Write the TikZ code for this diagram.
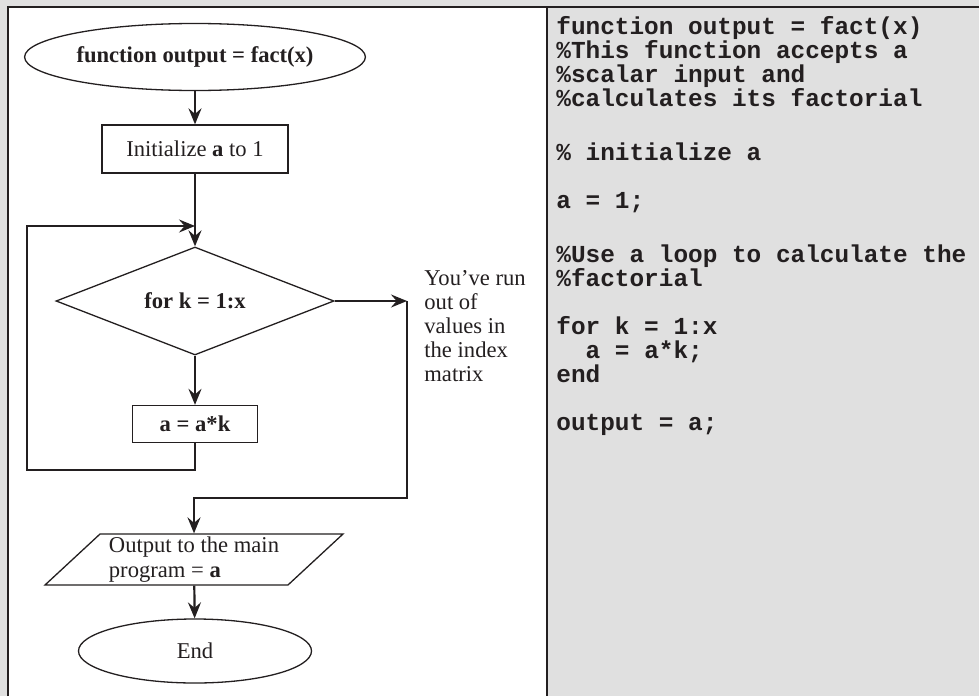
\documentclass[tikz,border=0pt]{standalone}
\usepackage{fontspec}
\setmainfont{Liberation Serif}
\setmonofont{Liberation Mono}
\usepackage{xcolor}
\usepackage{tikz}
\usetikzlibrary{arrows.meta,positioning,shapes.geometric,calc}
\definecolor{panelgray}{HTML}{E0E0E0}
\definecolor{ink}{HTML}{231F20}

\begin{document}
\begin{tikzpicture}[
  x=0.5pt,
  y=-0.5pt,
  shapeline/.style={draw=ink, line width=0.65pt, fill=white, inner sep=1pt,
    text=ink, font=\fontsize{11.3}{12.5}\selectfont},
  term/.style={shapeline, ellipse},
  proc/.style={shapeline, rectangle},
  test/.style={shapeline, diamond, aspect=2.57},
  io/.style={shapeline, trapezium, trapezium left angle=42,
    trapezium right angle=138, trapezium stretches body, align=left},
  flow/.style={ink, line width=1.1pt, -{Stealth[length=8pt,width=6.5pt,inset=2.8pt]}},
  link/.style={ink, line width=1.1pt},
  note/.style={text=ink, inner sep=0pt, align=left,
    font=\fontsize{11.3}{12}\selectfont},
  code/.style={text=ink, inner sep=0pt, align=left,
    font=\fontsize{12.2}{12}\ttfamily\bfseries}
]
% panels
\useasboundingbox (0,0) rectangle (979,696);
\fill[panelgray] (0,0) rectangle (979,696);
\fill[white] (8,7) rectangle (547,696);
\draw[ink, line width=1pt] (8,696) -- (8,7) -- (979,7);
\draw[ink, line width=1pt] (547,7) -- (547,696);

% flowchart
\node[term, minimum width=127.5pt, minimum height=33.5pt] (start) at (195,57)
  {\bfseries function output = fact(x)};
\node[proc, minimum width=93pt, minimum height=24pt] (init) at (195,149)
  {Initialize \textbf{a} to 1};
\node[test, minimum width=139pt, minimum height=54pt] (loop) at (195,301)
  {\bfseries for k = 1:x};
\node[proc, minimum width=62.5pt, minimum height=18.5pt] (body) at (195,424)
  {\bfseries a = a*k};
\node[io, minimum width=149pt, minimum height=25.5pt] (out) at (194,559.5)
  {Output to the main\\program = \textbf{a}};
\node[term, minimum width=116.5pt, minimum height=32pt] (end) at (195,651) {End};

\node[note, anchor=north west] (done) at (424,270)
  {You’ve run\\out of\\values in\\the index\\matrix};

\coordinate (join) at (195,226);
\coordinate (lft) at (27,470);
\coordinate (exit) at (407,301);
\coordinate (back) at (407,498);

\draw[flow] (start) -- (init);
\draw[flow] (init) -- (loop);
\draw[flow] (loop) -- (body);
\draw[flow] (body.south) |- (lft) |- (join);
\draw[flow] (loop.east) -- (exit);
\draw[flow] (exit) -- (back) -| (out.north);
\draw[flow] (out) -- (end);

% matlab listing
\node[code, anchor=north west] (src) at (556,16)
  {function output = fact(x)\\
   \%This function accepts a\\
   \%scalar input and\\
   \%calculates its factorial\\[15pt]
   \% initialize a\\[12pt]
   a = 1;\\[15pt]
   \%Use a loop to calculate the\\
   \%factorial\\[12pt]
   for k = 1:x\\
   \phantom{aa}a = a*k;\\
   end\\[12pt]
   output = a;};
\end{tikzpicture}
\end{document}
